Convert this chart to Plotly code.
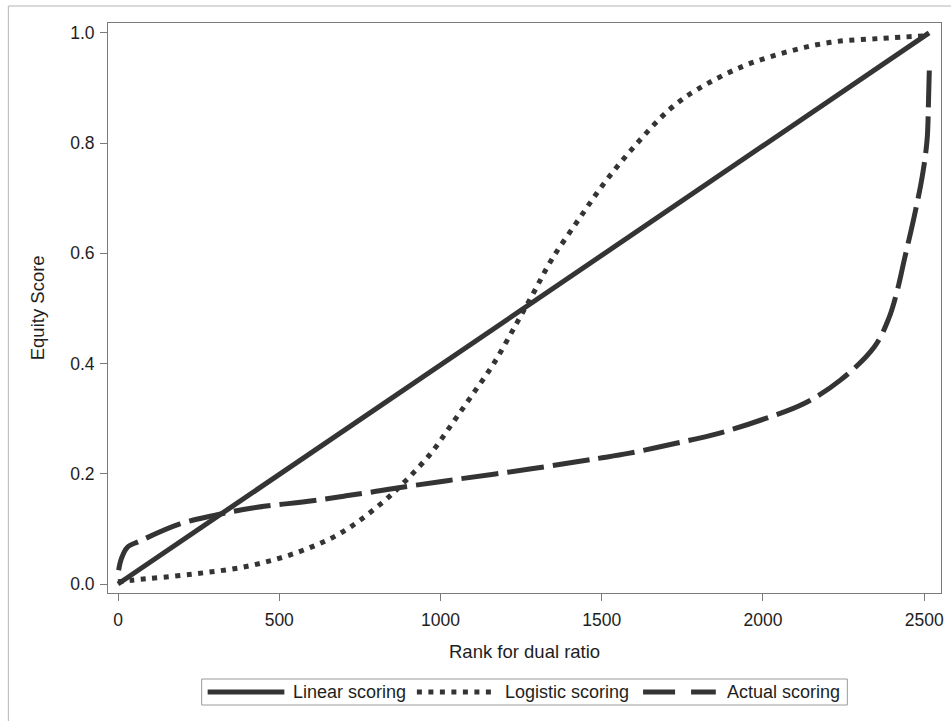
import plotly.graph_objects as go

# ---- data ----
linear_rank = [0, 2515]
linear_score = [0.0, 1.0]

logistic_rank = [0, 43, 232, 408, 559, 692, 816, 893, 970, 1035, 1097, 1165, 1236,
                 1290, 1344, 1428, 1511, 1607, 1712, 1798, 1932, 2071, 2210, 2364, 2515]
logistic_score = [0.004, 0.007, 0.018, 0.033, 0.058, 0.093, 0.146, 0.188, 0.237, 0.290,
                  0.342, 0.400, 0.473, 0.530, 0.588, 0.661, 0.730, 0.798, 0.862, 0.898,
                  0.938, 0.965, 0.983, 0.990, 0.995]

actual_rank = [2, 10, 28, 68, 192, 294, 417, 603, 707, 788, 850, 1026, 1282, 1489, 1582,
               1727, 1860, 2006, 2129, 2240, 2345, 2390, 2417, 2438, 2469, 2494, 2509,
               2513, 2516]
actual_score = [0.025, 0.045, 0.066, 0.078, 0.109, 0.124, 0.138, 0.151, 0.160, 0.167,
                0.173, 0.188, 0.209, 0.228, 0.237, 0.255, 0.273, 0.300, 0.328, 0.370,
                0.430, 0.482, 0.534, 0.588, 0.667, 0.740, 0.807, 0.870, 0.940]

x_ticks = [0, 500, 1000, 1500, 2000, 2500]
y_ticks = [0.0, 0.2, 0.4, 0.6, 0.8, 1.0]
series_names = ["Linear scoring", "Logistic scoring", "Actual scoring"]

# ---- styling ----
LINE_COLOR = "#343434"
FONT = "Liberation Sans, Arial, sans-serif"
TXT = "#1e1e1e"
AX = "#7a7a7a"
DOT = "5px,6.5px"
DASH = "37px,9px"

W, H = 951, 721
L, R, T, B = 108, 7, 23, 128
PW, PH = W - L - R, H - T - B


def px2paper(xp, yp):
    return (xp - L) / PW, (T + PH - yp) / PH


fig = go.Figure()
fig.add_trace(go.Scatter(x=linear_rank, y=linear_score, mode="lines",
                         name=series_names[0],
                         line=dict(color=LINE_COLOR, width=5)))
fig.add_trace(go.Scatter(x=logistic_rank, y=logistic_score, mode="lines",
                         name=series_names[1], line_shape="spline",
                         line=dict(color=LINE_COLOR, width=5, dash=DOT)))
fig.add_trace(go.Scatter(x=actual_rank, y=actual_score, mode="lines",
                         name=series_names[2], line_shape="spline",
                         line=dict(color=LINE_COLOR, width=5, dash=DASH)))

shapes = []
annotations = []

# outer frame
fx0, fy1 = px2paper(8, 6)
shapes.append(dict(type="rect", xref="paper", yref="paper", x0=fx0, x1=1.05,
                   y0=-0.3, y1=fy1, line=dict(color="#b5b5b5", width=1)))

# legend box
bx0, by0 = px2paper(202, 679)
bx1, by1 = px2paper(850, 705)
shapes.append(dict(type="rect", xref="paper", yref="paper", x0=bx0, x1=bx1,
                   y0=by1, y1=by0, line=dict(color="#9a9a9a", width=1)))

legend_items = [
    (series_names[0], (208, 285), None, 292),
    (series_names[1], (418, 495), DOT, 504),
    (series_names[2], (645, 718), "32px,16px", 727),
]
for name, (s0, s1), dash, tx in legend_items:
    lx0, ly = px2paper(s0, 692)
    lx1, _ = px2paper(s1, 692)
    ln = dict(color=LINE_COLOR, width=5)
    if dash:
        ln["dash"] = dash
    shapes.append(dict(type="line", xref="paper", yref="paper", x0=lx0, x1=lx1,
                       y0=ly, y1=ly, line=ln))
    tx_p, _ = px2paper(tx, 692)
    annotations.append(dict(text=name, xref="paper", yref="paper", x=tx_p, y=ly,
                            xanchor="left", yanchor="middle", showarrow=False,
                            font=dict(family=FONT, size=18, color=TXT)))

# axis titles
_, xty = px2paper(0, 651)
annotations.append(dict(text="Rank for dual ratio", xref="paper", yref="paper",
                        x=0.5, y=xty, xanchor="center", yanchor="middle",
                        showarrow=False, font=dict(family=FONT, size=18.5, color=TXT)))
ytx, _ = px2paper(37, 0)
annotations.append(dict(text="Equity Score", xref="paper", yref="paper",
                        x=ytx, y=0.5, xanchor="center", yanchor="middle",
                        textangle=-90, showarrow=False,
                        font=dict(family=FONT, size=18.5, color=TXT)))

fig.update_layout(
    width=W, height=H,
    margin=dict(l=L, r=R, t=T, b=B, pad=0),
    paper_bgcolor="white", plot_bgcolor="white",
    showlegend=False,
    font=dict(family=FONT, size=17, color=TXT),
    shapes=shapes, annotations=annotations,
)
fig.update_xaxes(range=[-31, 2552], tickvals=x_ticks, ticks="outside", ticklen=7,
                 ticklabelstandoff=4,
                 tickcolor=AX, tickwidth=1, showline=True, linecolor=AX, linewidth=1,
                 mirror=True, showgrid=False, zeroline=False,
                 tickfont=dict(family=FONT, size=17.5, color=TXT))
fig.update_yaxes(range=[-0.0163, 1.018], tickvals=y_ticks, tickformat=".1f",
                 ticks="outside", ticklen=7, ticklabelstandoff=2,
                 tickcolor=AX, tickwidth=1,
                 showline=True, linecolor=AX, linewidth=1, mirror=True,
                 showgrid=False, zeroline=False,
                 tickfont=dict(family=FONT, size=17.5, color=TXT))

fig.write_html(
    "out.html",
    config={"displayModeBar": False},
    post_script="document.body.style.margin='0';document.body.style.overflow='hidden';",
)
